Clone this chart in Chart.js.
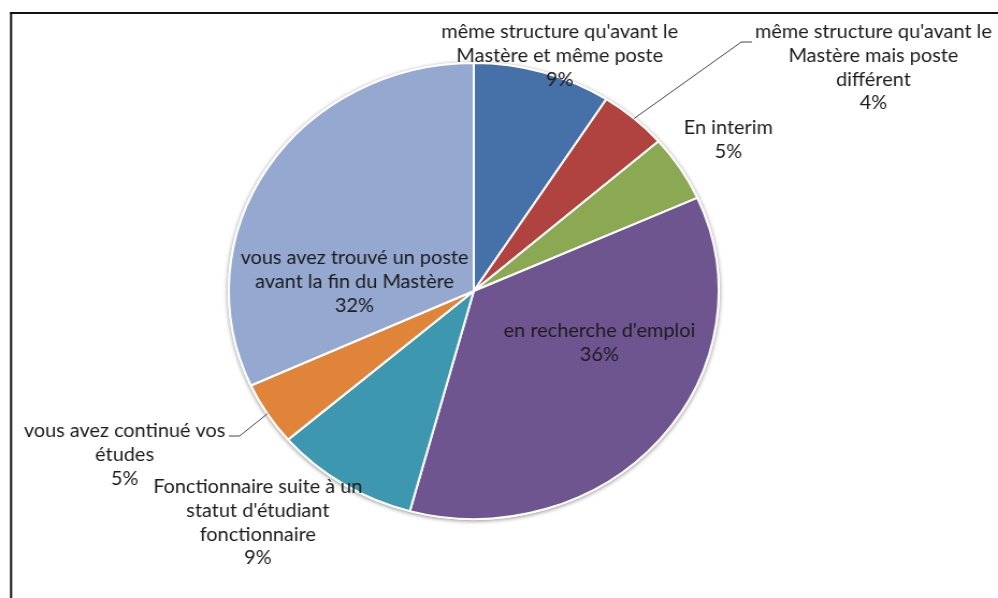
<!DOCTYPE html>
<html>
<head>
<meta charset="utf-8">
<script src="https://cdn.jsdelivr.net/npm/chart.js@4.4.1/dist/chart.umd.min.js"></script>
<style>
  html, body { margin: 0; padding: 0; background: #fff; overflow: hidden; }
  #wrap { position: absolute; left: 0; top: 0; width: 929px; height: 598px;
          transform: scaleX(1.0743); transform-origin: 0 0; }
</style>
</head>
<body>
<div id="wrap"><canvas id="pie" width="929" height="598"></canvas></div>
<script>
// Data, slices clockwise from 12 o'clock
var labels = [
  ['même structure qu\'avant le', 'Mastère et même poste'],
  ['même structure qu\'avant le', 'Mastère mais poste', 'différent'],
  ['En interim'],
  ['en recherche d\'emploi'],
  ['Fonctionnaire suite à un', 'statut d\'étudiant', 'fonctionnaire'],
  ['vous avez continué vos', 'études'],
  ['vous avez trouvé un poste', 'avant la fin du Mastère']
];
var shares = [9.1, 4.5, 4.7, 35.9, 9.5, 4.5, 31.8];
var pctLabels = ['9%', '4%', '5%', '36%', '9%', '5%', '32%'];
var colors = ['#4671A8', '#B0433F', '#8BA853', '#6E5590', '#3D97AE', '#E0843A', '#94A8D0'];

// label block placement: offset of first line from pie centre, and leader line flag
var labelPos = [
  { dx: 80, dy: -259 },
  { dx: 372, dy: -259, leader: { x: 249, y: -249, dir: 1 } },
  { dx: 237, dy: -163 },
  { dx: 117, dy: 40 },
  { dx: -201, dy: 196 },
  { dx: -325, dy: 140, leader: { x: -218, y: 145, dir: -1 } },
  { dx: -111, dy: -33 }
];

var lineH = 23.8;

var labelPlugin = {
  id: 'pieLabels',
  beforeDraw: function (chart) {
    var ctx = chart.ctx;
    ctx.save();
    ctx.fillStyle = '#111';
    ctx.fillRect(9.3, 12, 940, 2);
    ctx.fillRect(9.3, 12, 2, 600);
    ctx.restore();
  },
  beforeDatasetsDraw: function (chart) {
    var arc = chart.getDatasetMeta(0).data[0];
    var ctx = chart.ctx;
    ctx.save();
    ctx.shadowColor = 'rgba(0,0,0,0.45)';
    ctx.shadowBlur = 4;
    ctx.shadowOffsetY = 1;
    ctx.fillStyle = '#fff';
    ctx.beginPath();
    ctx.arc(arc.x, arc.y, arc.outerRadius + 1, 0, Math.PI * 2);
    ctx.fill();
    ctx.restore();
  },
  afterDatasetsDraw: function (chart) {
    var ctx = chart.ctx;
    var meta = chart.getDatasetMeta(0);
    ctx.save();
    ctx.font = '18.5px Lato, "Open Sans", sans-serif';
    ctx.textAlign = 'center';
    ctx.textBaseline = 'middle';
    ctx.fillStyle = '#1c1c1c';
    meta.data.forEach(function (a, i) {
      var p = labelPos[i];
      var cx = a.x + p.dx, cy = a.y + p.dy;
      var lines = labels[i].concat([pctLabels[i]]);
      lines.forEach(function (t, k) {
        ctx.fillText(t, cx, cy + k * lineH);
      });
      if (p.leader) {
        var mid = (a.startAngle + a.endAngle) / 2;
        var sx = a.x + Math.cos(mid) * a.outerRadius;
        var sy = a.y + Math.sin(mid) * a.outerRadius;
        var ex = a.x + p.leader.x, ey = a.y + p.leader.y;
        ctx.strokeStyle = '#444';
        ctx.lineWidth = 1;
        ctx.beginPath();
        ctx.moveTo(sx, sy);
        ctx.lineTo(ex, ey);
        ctx.lineTo(ex + p.leader.dir * 10, ey);
        ctx.stroke();
      }
    });
    ctx.restore();
  }
};

new Chart(document.getElementById('pie').getContext('2d'), {
  type: 'pie',
  data: {
    labels: labels.map(function (l) { return l.join(' '); }),
    datasets: [{
      data: shares,
      backgroundColor: colors,
      borderColor: '#fff',
      borderWidth: 2,
      hoverOffset: 0
    }]
  },
  options: {
    responsive: false,
    animation: false,
    layout: { padding: { left: 0, right: 47, top: 62, bottom: 78 } },
    plugins: {
      legend: { display: false },
      tooltip: { enabled: false }
    }
  },
  plugins: [labelPlugin]
});
</script>
</body>
</html>
